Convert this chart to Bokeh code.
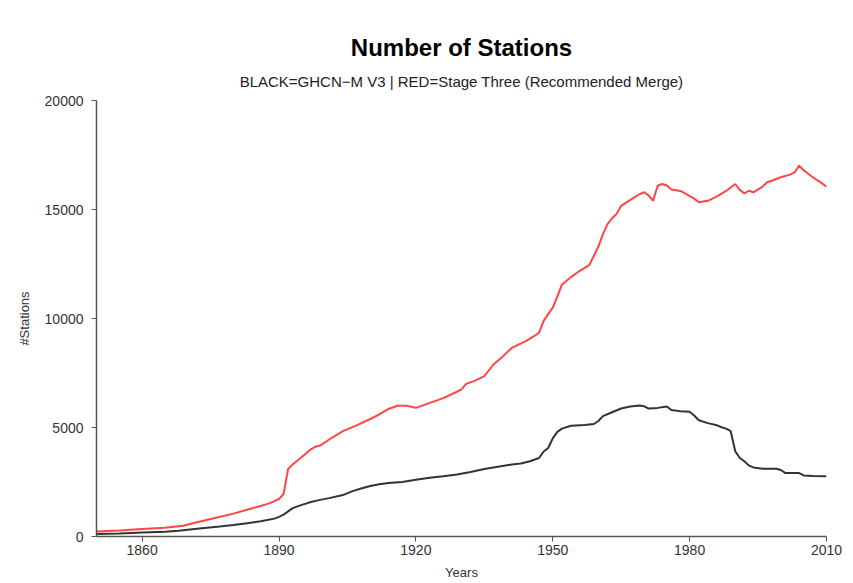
from bokeh.plotting import figure
from bokeh.models import Title, Range1d, FixedTicker
from bokeh.embed import file_html
from bokeh.resources import INLINE

title_text = "Number of Stations"
subtitle_text = "BLACK=GHCN\u2212M V3 | RED=Stage Three (Recommended Merge)"
x_label = "Years"
y_label = "#Stations"
x_ticks = [1860, 1890, 1920, 1950, 1980, 2010]
y_ticks = [0, 5000, 10000, 15000, 20000]

red_years = [1850, 1855, 1860, 1865, 1869, 1872, 1876, 1880, 1883, 1886, 1888, 1890,
             1891, 1892, 1893, 1895, 1897, 1898, 1899, 1901, 1904, 1907, 1910, 1912,
             1914, 1916, 1918, 1920, 1922, 1924, 1926, 1929, 1930, 1931, 1933, 1935,
             1937, 1939, 1941, 1944, 1946, 1947, 1948, 1949, 1950, 1951, 1952, 1954,
             1956, 1958, 1959, 1960, 1961, 1962, 1963, 1964, 1965, 1967, 1969, 1970,
             1971, 1972, 1973, 1974, 1975, 1976, 1978, 1979, 1981, 1982, 1984, 1986,
             1988, 1990, 1991, 1992, 1993, 1994, 1996, 1997, 1998, 2000, 2002, 2003,
             2004, 2005, 2007, 2009, 2010]
red_values = [230, 280, 340, 400, 490, 650, 850, 1050, 1230, 1400, 1530, 1720,
              1950, 3100, 3300, 3650, 4000, 4120, 4170, 4450, 4830, 5100, 5390, 5600,
              5850, 6000, 6000, 5900, 6050, 6200, 6350, 6640, 6750, 7000, 7150, 7360,
              7890, 8250, 8650, 8950, 9200, 9350, 9890, 10200, 10500, 11000, 11550, 11900,
              12200, 12450, 12870, 13300, 13870, 14330, 14600, 14800, 15170, 15440, 15700, 15790,
              15650, 15400, 16090, 16170, 16100, 15920, 15850, 15740, 15500, 15330, 15400, 15600,
              15850, 16170, 15900, 15740, 15860, 15790, 16050, 16250, 16320, 16480, 16600, 16700,
              17010, 16800, 16480, 16200, 16050]

black_years = [1850, 1855, 1860, 1865, 1868, 1872, 1877, 1880, 1883, 1886, 1889, 1890,
               1891, 1892, 1893, 1895, 1897, 1899, 1901, 1904, 1906, 1908, 1910, 1912,
               1914, 1917, 1920, 1923, 1926, 1929, 1932, 1935, 1938, 1941, 1943, 1945,
               1947, 1948, 1949, 1950, 1951, 1952, 1954, 1957, 1959, 1960, 1961, 1963,
               1965, 1967, 1969, 1970, 1971, 1973, 1975, 1976, 1978, 1980, 1981, 1982,
               1984, 1986, 1987, 1988, 1989, 1990, 1991, 1992, 1993, 1994, 1996, 1999,
               2000, 2001, 2004, 2005, 2007, 2010]
black_values = [110, 140, 180, 220, 260, 360, 460, 530, 610, 700, 820, 900,
                1000, 1150, 1300, 1450, 1580, 1680, 1760, 1900, 2070, 2200, 2320, 2400,
                2450, 2500, 2600, 2700, 2760, 2840, 2960, 3100, 3200, 3300, 3350, 3450,
                3600, 3900, 4060, 4500, 4800, 4950, 5080, 5120, 5160, 5300, 5520, 5700,
                5870, 5960, 6010, 5980, 5870, 5900, 5960, 5800, 5750, 5720, 5550, 5330,
                5200, 5100, 5010, 4950, 4830, 3910, 3600, 3450, 3250, 3170, 3110, 3110,
                3050, 2910, 2910, 2800, 2770, 2760]

FONT = "Liberation Sans"

p = figure(width=853, height=583, output_backend="svg", toolbar_location=None,
           x_range=Range1d(1850, 2010), y_range=Range1d(0, 20000),
           min_border_left=96, min_border_right=27, min_border_top=100, min_border_bottom=47)
p.outline_line_color = None
p.grid.visible = False
p.background_fill_color = "white"
p.border_fill_color = "white"

p.line(black_years, black_values, line_color="#333333", line_width=2)
p.line(red_years, red_values, line_color="#ff4545", line_width=2)

p.add_layout(Title(text=subtitle_text, align="center", text_font=FONT,
                   text_font_size="15px", text_font_style="normal",
                   text_color="#222222", standoff=21), "above")
p.add_layout(Title(text=title_text, align="center", text_font=FONT,
                   text_font_size="24px", text_font_style="bold",
                   text_color="#000000", standoff=0), "above")

for ax in (p.xaxis[0], p.yaxis[0]):
    ax.axis_line_color = "#555555"
    ax.axis_line_width = 1.5
    ax.major_tick_line_color = "#555555"
    ax.major_tick_in = 0
    ax.major_tick_out = 5
    ax.minor_tick_line_color = None
    ax.major_label_text_font = FONT
    ax.major_label_text_font_size = "14px"
    ax.major_label_text_color = "#333333"
    ax.axis_label_text_font = FONT
    ax.axis_label_text_font_size = "13px"
    ax.axis_label_text_font_style = "normal"
    ax.axis_label_text_color = "#333333"

p.xaxis[0].ticker = FixedTicker(ticks=x_ticks)
p.yaxis[0].ticker = FixedTicker(ticks=y_ticks)
p.xaxis[0].axis_label = x_label
p.yaxis[0].axis_label = y_label
p.xaxis[0].major_label_standoff = 3
p.xaxis[0].axis_label_standoff = 7
p.yaxis[0].major_label_standoff = 8
p.yaxis[0].axis_label_standoff = 10
p.yaxis[0].major_label_orientation = "horizontal"

open("out.html", "w").write(file_html(p, INLINE))
